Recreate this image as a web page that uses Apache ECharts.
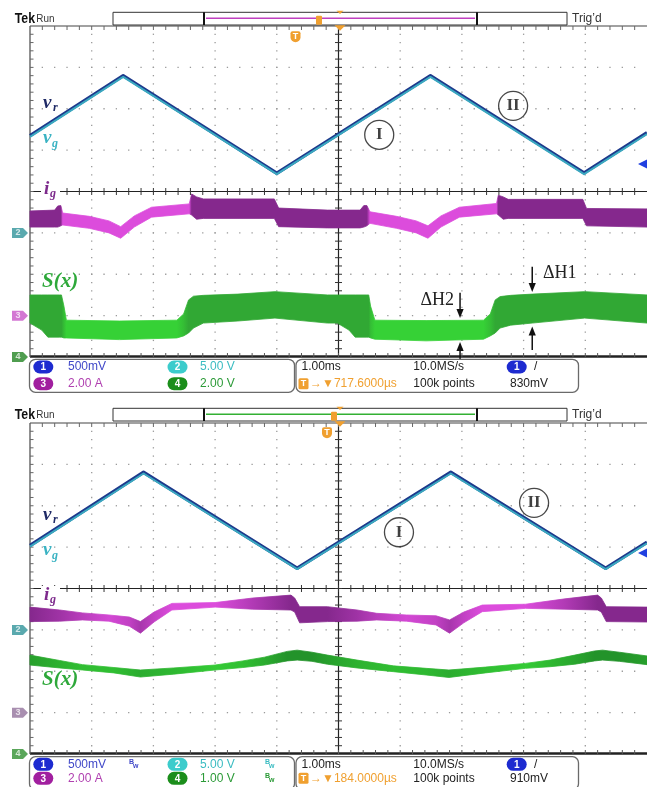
<!DOCTYPE html>
<html>
<head>
<meta charset="utf-8">
<script src="https://cdn.jsdelivr.net/npm/echarts/dist/echarts.min.js"></script>
<style>
  html, body { margin: 0; padding: 0; background: #ffffff; }
  #scope { width: 647px; height: 787px; }
</style>
</head>
<body>
<div id="scope"></div>
<script>
// Two captures at 1.00 ms/div. Time in ms across the 10 divisions,
// vertical position in screen divisions (centre line = 0, range +-4).

// ---------- upper capture ----------
const upT  = [0, 1.51, 4.00, 6.49, 8.98, 10];
const upVr = [1.35, 2.80, 0.44, 2.80, 0.45, 1.42];
const upVg = [1.32, 2.77, 0.42, 2.77, 0.42, 1.39];

const upIgT     = [0, 0.40, 0.45, 0.50, 0.53, 0.96, 1.28, 1.47, 1.69, 1.97, 2.58, 2.62, 2.70, 2.81, 3.96, 4.03, 4.82,
                   5.35, 5.41, 5.46, 5.51, 5.94, 6.26, 6.45, 6.66, 6.96, 7.56, 7.59, 7.67, 7.75, 8.96, 9.02, 10];
const upIgHi    = [-0.47, -0.45, -0.35, -0.34, -0.52, -0.60, -0.71, -0.85, -0.59, -0.38, -0.30, -0.06, -0.13, -0.18, -0.18, -0.40, -0.45,
                   -0.45, -0.34, -0.34, -0.49, -0.60, -0.71, -0.83, -0.59, -0.38, -0.29, -0.09, -0.13, -0.19, -0.19, -0.41, -0.42];
const upIgLo    = [-0.86, -0.86, -0.86, -0.83, -0.81, -0.89, -1.00, -1.13, -0.86, -0.62, -0.54, -0.57, -0.67, -0.65, -0.65, -0.85, -0.88,
                   -0.88, -0.86, -0.83, -0.77, -0.89, -1.00, -1.13, -0.86, -0.62, -0.54, -0.57, -0.67, -0.65, -0.65, -0.83, -0.86];
const upIgShade = [1, 1, 1, 1, 0, 0, 0, 0, 0, 0, 0, 1, 1, 1, 1, 1, 1,
                   1, 1, 1, 0, 0, 0, 0, 0, 0, 0, 1, 1, 1, 1, 1, 1];

const upSxT     = [0, 0.19, 0.29, 0.48, 0.51, 0.55, 0.59, 1.45, 2.38, 2.49, 2.57, 2.65, 2.81, 3.37, 3.97, 4.82,
                   4.98, 5.17, 5.27, 5.46, 5.49, 5.52, 5.59, 6.42, 7.35, 7.46, 7.54, 7.62, 7.79, 8.14, 8.99, 10];
const upSxHi    = [-2.50, -2.50, -2.50, -2.50, -2.50, -2.77, -3.11, -3.13, -3.11, -2.96, -2.62, -2.53, -2.51, -2.48, -2.42, -2.50,
                   -2.50, -2.50, -2.50, -2.50, -2.50, -2.77, -3.11, -3.12, -3.11, -2.96, -2.62, -2.54, -2.51, -2.48, -2.42, -2.50];
const upSxLo    = [-3.18, -3.35, -3.52, -3.52, -3.52, -3.54, -3.54, -3.58, -3.54, -3.49, -3.42, -3.30, -3.18, -3.13, -3.06, -3.18,
                   -3.18, -3.35, -3.52, -3.52, -3.52, -3.54, -3.57, -3.61, -3.57, -3.49, -3.42, -3.30, -3.23, -3.18, -3.06, -3.18];
const upSxShade = [1, 1, 1, 1, 1, 0.5, 0, 0, 0, 0.5, 1, 1, 1, 1, 1, 1,
                   1, 1, 1, 1, 1, 0.5, 0, 0, 0, 0.5, 1, 1, 1, 1, 1, 1];

const upCircT = [5.66, 7.83];
const upCircY = [1.37, 2.07];
const circNames = ['I', 'II'];

// ΔH markers: arrow shafts at time t, from one level to the tip level
const dhT    = [6.97, 6.97, 8.14, 8.14];
const dhFrom = [-2.45, -4.32, -1.82, -3.83];
const dhTo   = [-3.06, -3.64, -2.43, -3.26];

// ---------- lower capture ----------
const loT  = [0, 1.84, 4.33, 6.82, 9.33, 10];
const loVr = [1.04, 2.81, 0.49, 2.81, 0.49, 1.12];
const loVg = [1.01, 2.78, 0.47, 2.78, 0.47, 1.09];

const loIgT     = [0, 0.48, 0.85, 1.28, 1.61, 1.79, 2.01, 2.30, 3.00, 3.61, 4.23, 4.29, 4.37, 4.82,
                   5.30, 5.62, 6.10, 6.58, 6.80, 7.03, 7.33, 8.03, 8.67, 9.20, 9.26, 9.34, 10];
const loIgHi    = [-0.45, -0.52, -0.59, -0.64, -0.69, -0.80, -0.57, -0.36, -0.34, -0.23, -0.16, -0.23, -0.44, -0.44,
                   -0.52, -0.60, -0.64, -0.66, -0.76, -0.57, -0.40, -0.38, -0.25, -0.16, -0.23, -0.44, -0.45];
const loIgLo    = [-0.80, -0.79, -0.76, -0.79, -0.91, -1.08, -0.81, -0.52, -0.45, -0.50, -0.52, -0.57, -0.83, -0.80,
                   -0.79, -0.76, -0.79, -0.88, -1.08, -0.83, -0.56, -0.48, -0.50, -0.52, -0.57, -0.80, -0.81];
const loIgShade = [1, 0.7, 0.4, 0.1, 0.3, 0.6, 0.3, 0, 0, 0.5, 1, 1, 1, 1,
                   0.7, 0.4, 0.1, 0.3, 0.6, 0.3, 0, 0, 0.5, 1, 1, 1, 1];

const loSxT     = [0, 0.48, 0.85, 1.36, 1.79, 2.33, 3.00, 3.45, 3.80, 4.17, 4.33, 4.57, 4.82,
                   5.30, 5.89, 6.42, 6.79, 7.38, 8.03, 8.43, 8.83, 9.15, 9.28, 9.55, 10];
const loSxHi    = [-1.61, -1.74, -1.84, -1.91, -1.97, -1.92, -1.85, -1.75, -1.66, -1.52, -1.49, -1.54, -1.61,
                   -1.73, -1.87, -1.93, -1.97, -1.90, -1.81, -1.73, -1.61, -1.51, -1.49, -1.54, -1.63];
const loSxLo    = [-1.85, -1.92, -1.97, -2.04, -2.14, -2.07, -1.97, -1.91, -1.85, -1.75, -1.73, -1.76, -1.83,
                   -1.92, -2.01, -2.09, -2.15, -2.04, -1.93, -1.89, -1.83, -1.75, -1.73, -1.76, -1.84];
const loSxShade = [0.8, 0.5, 0.3, 0.3, 0.6, 0.4, 0.1, 0.3, 0.6, 1, 1, 1, 0.8,
                   0.5, 0.3, 0.4, 0.6, 0.3, 0.1, 0.4, 0.7, 1, 1, 1, 0.8];

const loCircT = [5.98, 8.17];
const loCircY = [1.36, 2.07];

// channel ground markers (divisions) and readouts
const chMarkLevels = [-1, -3, -4];
const chMarkNames  = ['2', '3', '4'];
const upScales = ['500mV', '5.00 V', '2.00 A', '2.00 V'];
const loScales = ['500mV', '5.00 V', '2.00 A', '1.00 V'];
const upTiming = ['1.00ms', '10.0MS/s', '717.6000µs', '100k points', '830mV'];
const loTiming = ['1.00ms', '10.0MS/s', '184.0000µs', '100k points', '910mV'];

// ---------- drawing ----------
const SERIF = '"Liberation Serif","Times New Roman",serif';
const SANS = '"Liberation Sans",Arial,sans-serif';
const ORANGE = '#f0a030';

function hex(c) { return [1, 3, 5].map(i => parseInt(c.substr(i, 2), 16)); }
function mix(a, b, s) {
  const pa = hex(a), pb = hex(b);
  return 'rgb(' + pa.map((v, k) => Math.round(v + (pb[k] - v) * s)).join(',') + ')';
}

function graticule(params, api) {
  const ch = [];
  const P = (x, y) => api.coord([x, y]);
  const dot = p => ch.push({ type: 'rect', shape: { x: p[0] - 0.65, y: p[1] - 0.65, width: 1.3, height: 1.3 }, style: { fill: '#9a9a9a' } });
  const seg = (a, b, w, c) => ch.push({ type: 'line', shape: { x1: a[0], y1: a[1], x2: b[0], y2: b[1] }, style: { stroke: c, lineWidth: w } });
  for (let gx = 1; gx < 10; gx++) {
    if (gx === 5) continue;
    for (let k = 1; k < 40; k++) dot(P(gx, -4 + k * 0.2));
  }
  for (let gy = -3; gy <= 3; gy++) {
    if (gy === 0) continue;
    for (let k = 1; k < 50; k++) dot(P(k * 0.2, gy));
  }
  seg(P(5, -4), P(5, 4), 1.2, '#222');
  seg(P(0, 0), P(10, 0), 1.2, '#222');
  for (let k = 1; k < 40; k++) { const p = P(5, -4 + k * 0.2); seg([p[0] - 3.5, p[1]], [p[0] + 3.5, p[1]], 1, '#333'); }
  for (let k = 1; k < 50; k++) { const p = P(k * 0.2, 0); seg([p[0], p[1] - 3.5], [p[0], p[1] + 3.5], 1, '#333'); }
  const tl = P(0, 4), br = P(10, -4);
  seg([tl[0], tl[1]], [br[0], tl[1]], 1.2, '#444');
  seg([tl[0], br[1] - 0.5], [br[0], br[1] - 0.5], 2.4, '#222');
  seg([tl[0], tl[1]], [tl[0], br[1]], 1.3, '#555');
  for (let k = 1; k < 50; k++) {
    const p = P(k * 0.2, 4), q = P(k * 0.2, -4);
    seg([p[0], p[1]], [p[0], p[1] + 4], 1, '#666');
    seg([q[0], q[1]], [q[0], q[1] - 4], 1, '#555');
  }
  for (let k = 1; k < 40; k++) { const p = P(0, -4 + k * 0.2); seg([p[0], p[1]], [p[0] + 3.5, p[1]], 1, '#666'); }
  return { type: 'group', children: ch };
}

function band(gi, T, HI, LO, SH, bright, dark) {
  return {
    type: 'custom', xAxisIndex: gi, yAxisIndex: gi, z: 3, silent: true,
    data: T.map((t, i) => [t, HI[i], LO[i]]),
    renderItem(params, api) {
      if (params.dataIndex !== 0) return null;
      const up = T.map((t, i) => api.coord([t, HI[i]]));
      const dn = T.map((t, i) => api.coord([t, LO[i]]));
      const x0 = up[0][0], x1 = up[up.length - 1][0];
      const stops = T.map((t, i) => ({ offset: Math.min(1, Math.max(0, (up[i][0] - x0) / (x1 - x0))), color: mix(bright, dark, SH[i]) }));
      const fill = new echarts.graphic.LinearGradient(x0, 0, x1, 0, stops, true);
      return {
        type: 'polygon',
        shape: { points: up.concat(dn.slice().reverse()) },
        style: { fill: fill, stroke: fill, lineWidth: 0.8 }
      };
    }
  };
}

function trace(gi, T, V, color, width, z) {
  return {
    type: 'line', xAxisIndex: gi, yAxisIndex: gi, z: z, silent: true,
    data: T.map((t, i) => [t, V[i]]), showSymbol: false,
    lineStyle: { color: color, width: width, join: 'round' }
  };
}

function circles(gi, T, Y) {
  return {
    type: 'scatter', xAxisIndex: gi, yAxisIndex: gi, z: 6, silent: true,
    data: T.map((t, i) => [t, Y[i], circNames[i]]),
    symbol: 'circle', symbolSize: 29,
    itemStyle: { color: 'rgba(255,255,255,0)', borderColor: '#1a1a1a', borderWidth: 1.3 },
    label: { show: true, position: 'inside', formatter: p => p.data[2], fontFamily: SERIF, fontWeight: 'bold', fontSize: 17, color: '#111' }
  };
}

function chMarkers(gi, colors) {
  return {
    type: 'custom', xAxisIndex: gi, yAxisIndex: gi, z: 7, clip: false, silent: true,
    data: chMarkLevels.map(l => [0, l]),
    renderItem(params, api) {
      const p = api.coord([0, api.value(1)]);
      const x = p[0], y = p[1];
      return {
        type: 'group', children: [
          { type: 'polygon', shape: { points: [[x - 18, y - 5], [x - 7, y - 5], [x - 2, y], [x - 7, y + 5], [x - 18, y + 5]] }, style: { fill: colors[params.dataIndex] } },
          { type: 'text', style: { text: chMarkNames[params.dataIndex], x: x - 12, y: y, font: 'bold 9px ' + SANS, fill: 'rgba(255,255,255,0.75)', align: 'center', verticalAlign: 'middle', textAlign: 'center', textVerticalAlign: 'middle' } }
        ]
      };
    }
  };
}

const arrows = {
  type: 'custom', xAxisIndex: 0, yAxisIndex: 0, z: 8, clip: false, silent: true,
  data: dhT.map((t, i) => [t, dhFrom[i], dhTo[i]]),
  renderItem(params, api) {
    const a = api.coord([api.value(0), api.value(1)]);
    const b = api.coord([api.value(0), api.value(2)]);
    const d = b[1] > a[1] ? 1 : -1;
    return {
      type: 'group', children: [
        { type: 'line', shape: { x1: a[0], y1: a[1], x2: b[0], y2: b[1] - d * 6 }, style: { stroke: '#111', lineWidth: 1.5 } },
        { type: 'polygon', shape: { points: [[b[0], b[1]], [b[0] - 3.6, b[1] - d * 9], [b[0] + 3.6, b[1] - d * 9]] }, style: { fill: '#111' } }
      ]
    };
  }
};

const gratSeries = gi => ({
  type: 'custom', xAxisIndex: gi, yAxisIndex: gi, z: 1, clip: false, silent: true,
  data: [[0, 0]], renderItem: graticule
});

// ---------- screen furniture (header bar, readouts, trace names) ----------
const G = [];
function text(x, y, s, font, fill, align, extra) {
  G.push(Object.assign({
    type: 'text', x: x, y: y, z: 30,
    style: { text: s, font: font, fill: fill, align: align || 'left', verticalAlign: 'middle', textAlign: align || 'left', textVerticalAlign: 'middle' }
  }, extra || {}));
}
function rect(x, y, w, h, fill, stroke, lw, r, z) {
  G.push({ type: 'rect', z: z || 20, shape: { x: x, y: y, width: w, height: h, r: r || 0 }, style: { fill: fill, stroke: stroke || null, lineWidth: lw || 0 } });
}
function line(x1, y1, x2, y2, stroke, lw) {
  G.push({ type: 'line', z: 21, shape: { x1: x1, y1: y1, x2: x2, y2: y2 }, style: { stroke: stroke, lineWidth: lw } });
}
function poly(points, fill) {
  G.push({ type: 'polygon', z: 22, shape: { points: points }, style: { fill: fill } });
}
function badge(cx, cy, s, color) {
  rect(cx - 10, cy - 6.5, 20, 13, color, null, 0, 6.5, 24);
  text(cx, cy + 0.5, s, 'bold 10px ' + SANS, '#ffffff', 'center');
}

function header(y, sigColor, markX, shieldX) {
  text(12.5, y + 7, 'Tek', 'bold 15px ' + SANS, '#111', 'left', { scaleX: 0.82, originX: 12.5, originY: y + 7 });
  text(33, y + 6.5, 'Run', '11px ' + SANS, '#333', 'left', { scaleX: 0.9, originX: 33, originY: y + 6.5 });
  rect(113, y, 454, 12.7, '#ffffff', '#333', 1);
  line(204, y, 204, y + 12.7, '#111', 2);
  line(477, y, 477, y + 12.7, '#111', 2);
  line(206, y + 6, 475, y + 6, sigColor, 1.6);
  rect(markX, y + 3.5, 6, 9, ORANGE, null, 0, 1, 23);
  poly([[336.5, y - 1.5], [343.5, y - 1.5], [340, y + 1.8]], ORANGE);
  poly([[334.5, y + 13], [345.5, y + 13], [340, y + 18.5]], ORANGE);
  rect(shieldX, y + 19, 10, 11, ORANGE, null, 0, [2, 2, 5, 5], 23);
  text(shieldX + 5, y + 24, 'T', 'bold 9px ' + SANS, '#ffffff', 'center');
  text(572, y + 6.5, 'Trig\u2019d', '12px ' + SANS, '#333', 'left');
}

function readout(top, r1, r2, scales, timing, bw) {
  rect(29.5, top, 265, 33, '#ffffff', '#6a6a6a', 1.3, 6, 19);
  rect(296, top, 282.5, 33, '#ffffff', '#6a6a6a', 1.3, 6, 19);
  const F = '12px ' + SANS;
  badge(43.3, r1, '1', '#1d2bd0'); text(68, r1, scales[0], F, '#4048c8');
  badge(177.5, r1, '2', '#3ccccc'); text(200, r1, scales[1], F, '#3bbcc2');
  badge(43.3, r2, '3', '#a11f9f'); text(68, r2, scales[2], F, '#b040b0');
  badge(177.5, r2, '4', '#1b8e1b'); text(200, r2, scales[3], F, '#2b9a37');
  text(301.5, r1, timing[0], F, '#222');
  text(413.3, r1, timing[1], F, '#222');
  badge(516.7, r1, '1', '#1d2bd0');
  text(534, r1, '/', F, '#222');
  rect(298.5, r2 - 5.5, 10, 11, ORANGE, null, 0, 1.5, 24);
  text(303.5, r2, 'T', 'bold 9px ' + SANS, '#ffffff', 'center');
  text(310, r2, '\u2192\u25BC' + timing[2], F, ORANGE);
  text(413.3, r2, timing[3], F, '#222');
  text(510, r2, timing[4], F, '#222');
  if (bw) {
    [[129, r1, '#4048c8'], [265, r1, '#3bbcc2'], [265, r2, '#2b9a37']].forEach(b => {
      text(b[0], b[1] - 2, 'B', 'bold 7px ' + SANS, b[2]);
      text(b[0] + 4, b[1] + 2, 'w', 'bold 7px ' + SANS, b[2]);
    });
  }
}

function names(yr, yg, yi, ys) {
  const it = sz => 'italic bold ' + sz + 'px ' + SERIF;
  text(43, yr, 'v', it(19), '#1f2a66'); text(53, yr + 5, 'r', it(12), '#1f2a66');
  text(43, yg, 'v', it(19), '#3bb3c3'); text(52, yg + 6, 'g', it(12), '#3bb3c3');
  G.push({ type: 'rect', z: 25, shape: { x: 41, y: yi - 9, width: 19, height: 19 }, style: { fill: '#ffffff' } });
  text(44, yi, 'i', it(19), '#7d2a8c'); text(50, yi + 5, 'g', it(12), '#7d2a8c');
  text(42, ys, 'S(x)', it(21), '#2ea83a');
}

header(12.3, '#c040c0', 316, 290.5);
readout(359.3, 367, 383.7, upScales, upTiming, false);
names(103, 138, 189, 282);
text(454, 300, '\u0394H2', '18px ' + SERIF, '#222', 'right');
text(543, 273, '\u0394H1', '18px ' + SERIF, '#222', 'left');
poly([[638, 164], [647, 159.5], [647, 168.5]], '#2040e0');

header(408.3, '#33b033', 331, 322);
readout(756.7, 764.3, 778.3, loScales, loTiming, true);
names(515, 550, 595, 680);
poly([[638, 553], [647, 548.5], [647, 557.5]], '#2040e0');

const chart = echarts.init(document.getElementById('scope'), null, { renderer: 'canvas' });
chart.setOption({
  animation: false,
  backgroundColor: '#ffffff',
  grid: [
    { left: 30, top: 26, width: 623, height: 331 },
    { left: 30, top: 423, width: 623, height: 331 }
  ],
  xAxis: [0, 1].map(i => ({ gridIndex: i, type: 'value', min: 0, max: 10, interval: 1, show: false })),
  yAxis: [0, 1].map(i => ({ gridIndex: i, type: 'value', min: -4, max: 4, interval: 1, show: false })),
  series: [
    gratSeries(0), gratSeries(1),
    chMarkers(0, ['#5aa9ae', '#d377d3', '#4f9d4f']),
    chMarkers(1, ['#5aa9ae', '#a98fb0', '#5aa65a']),
    band(0, upIgT, upIgHi, upIgLo, upIgShade, '#dc4cdc', '#85288d'),
    band(0, upSxT, upSxHi, upSxLo, upSxShade, '#36d136', '#31a834'),
    band(1, loIgT, loIgHi, loIgLo, loIgShade, '#dc4cdc', '#85288d'),
    band(1, loSxT, loSxHi, loSxLo, loSxShade, '#36d136', '#23932a'),
    trace(0, upT, upVr, '#1d3a8c', 3.4, 4), trace(0, upT, upVg, '#3aa8c0', 2, 5),
    trace(1, loT, loVr, '#1d3a8c', 3.4, 4), trace(1, loT, loVg, '#3aa8c0', 2, 5),
    circles(0, upCircT, upCircY), circles(1, loCircT, loCircY),
    arrows
  ],
  graphic: G
});
</script>
</body>
</html>
